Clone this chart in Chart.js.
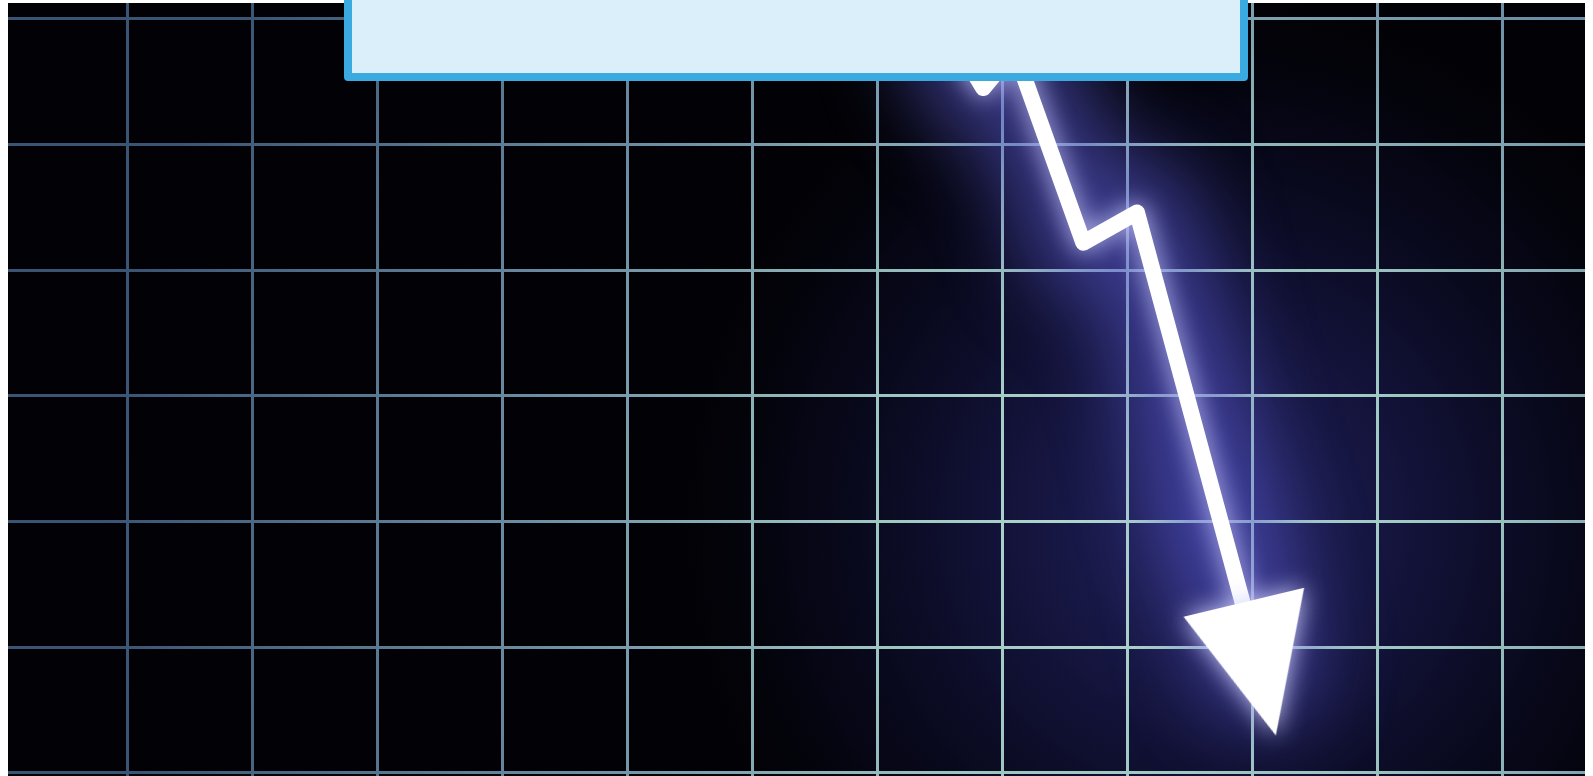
<!DOCTYPE html>
<html>
<head>
<meta charset="utf-8">
<script src="https://cdn.jsdelivr.net/npm/chart.js@4.4.1/dist/chart.umd.min.js"></script>
<style>
body { margin:0; background:#fff; width:1593px; height:776px; overflow:hidden; position:relative; }
#wrap { position:absolute; left:8px; top:3px; width:1577px; height:773px; }
#box { position:absolute; left:344px; top:-10px; width:904px; height:91px; box-sizing:border-box;
       background:#daeff9; border:8px solid #3aaae0; border-radius:0 0 4px 4px; }
</style>
</head>
<body>
<div id="wrap"><canvas id="chartMy1"></canvas></div>
<div id="box"></div>
<script>
// falling line, in grid cells
var lineX = [6.62, 6.85, 7.10, 7.65, 8.08, 8.94];
var lineY = [5.83, 5.45, 5.75, 4.22, 4.46, 1.30];
// arrow head
var headX = [9.06];
var headY = [0.84];
var xTicks = [0, 1, 2, 3, 4, 5, 6, 7, 8, 9, 10, 11];
var yTicks = [0, 1, 2, 3, 4, 5, 6];

function pts(xs, ys) {
     var out = [];
     for (var i = 0; i < xs.length; i++) out.push({x: xs[i], y: ys[i]});
     return out;
}

// isosceles head, tip up, rotated by the point style
var head = document.createElement('canvas');
head.width = 160; head.height = 160;
var hc = head.getContext('2d');
hc.fillStyle = '#ffffff';
hc.beginPath();
hc.moveTo(80, 10);
hc.lineTo(142, 147);
hc.lineTo(18, 147);
hc.closePath();
hc.fill();

var gridGrad = null;
function gridPaint(chart) {
     if (!chart.chartArea) return '#6a8aa0';
     if (!gridGrad) {
          gridGrad = chart.ctx.createRadialGradient(1150, 520, 0, 1150, 520, 1050);
          gridGrad.addColorStop(0, '#b4dccf');
          gridGrad.addColorStop(0.3, '#9cc4c0');
          gridGrad.addColorStop(0.6, '#6c8ea4');
          gridGrad.addColorStop(1, '#3a5574');
     }
     return gridGrad;
}

var bgPlugin = {
     id: 'bg',
     beforeDraw: function(chart) {
          var ctx = chart.ctx, a = chart.chartArea;
          ctx.save();
          ctx.fillStyle = '#020206';
          ctx.fillRect(a.left, a.top, a.right - a.left, a.bottom - a.top);
          var g = ctx.createRadialGradient(1200, 520, 0, 1200, 520, 560);
          g.addColorStop(0, 'rgba(40,40,110,0.9)');
          g.addColorStop(0.4, 'rgba(24,24,75,0.7)');
          g.addColorStop(0.75, 'rgba(10,10,36,0.45)');
          g.addColorStop(1, 'rgba(0,0,0,0)');
          ctx.fillStyle = g;
          ctx.fillRect(a.left, a.top, a.right - a.left, a.bottom - a.top);
          ctx.restore();
     }
};

var glowPlugin = {
     id: 'glow',
     beforeDatasetDraw: function(chart, args) {
          var ctx = chart.ctx;
          var ds = chart.data.datasets[args.index];
          ctx.save();
          if (ds.blur) ctx.filter = 'blur(' + ds.blur + 'px)';
          if (ds.glow) { ctx.shadowColor = ds.glow; ctx.shadowBlur = 24; }
     },
     afterDatasetDraw: function(chart) {
          chart.ctx.restore();
     }
};

var config = {
     type: 'line',
     data: {
          datasets: [{
               data: pts(headX, headY),
               showLine: false,
               pointStyle: head,
               rotation: 166.5,
               pointRadius: 10,
               pointHoverRadius: 10,
               glow: 'rgba(210,210,255,0.95)',
               order: 0
          }, {
               data: pts(lineX, lineY),
               borderColor: '#ffffff',
               borderWidth: 16,
               borderJoinStyle: 'round',
               borderCapStyle: 'round',
               pointRadius: 0,
               glow: 'rgba(200,200,255,0.95)',
               order: 1
          }, {
               data: pts(lineX.concat(headX), lineY.concat(headY)),
               borderColor: 'rgba(90,90,210,0.6)',
               borderWidth: 110,
               borderJoinStyle: 'round',
               borderCapStyle: 'round',
               pointRadius: 0,
               blur: 40,
               order: 2
          }]
     },
     options: {
          responsive: true,
          maintainAspectRatio: false,
          animation: false,
          events: [],
          layout: { padding: 0, autoPadding: false },
          plugins: {
               legend: { display: false },
               title: { display: false },
               tooltip: { enabled: false }
          },
          scales: {
               x: {
                    type: 'linear',
                    min: -0.952,
                    max: 11.664,
                    afterBuildTicks: function(s) { s.ticks = xTicks.map(function(v) { return {value: v}; }); },
                    ticks: { display: false },
                    border: { display: false },
                    grid: { color: function(c) { return gridPaint(c.chart); }, lineWidth: 3, drawTicks: false }
               },
               y: {
                    type: 'linear',
                    min: -0.024,
                    max: 6.127,
                    afterBuildTicks: function(s) { s.ticks = yTicks.map(function(v) { return {value: v}; }); },
                    ticks: { display: false },
                    border: { display: false },
                    grid: { color: function(c) { return gridPaint(c.chart); }, lineWidth: 3, drawTicks: false }
               }
          }
     },
     plugins: [bgPlugin, glowPlugin]
};

window.onload = function() {
     var ctx = document.getElementById("chartMy1").getContext("2d");
     window.myLine = new Chart(ctx, config);
};
</script>
</body>
</html>
